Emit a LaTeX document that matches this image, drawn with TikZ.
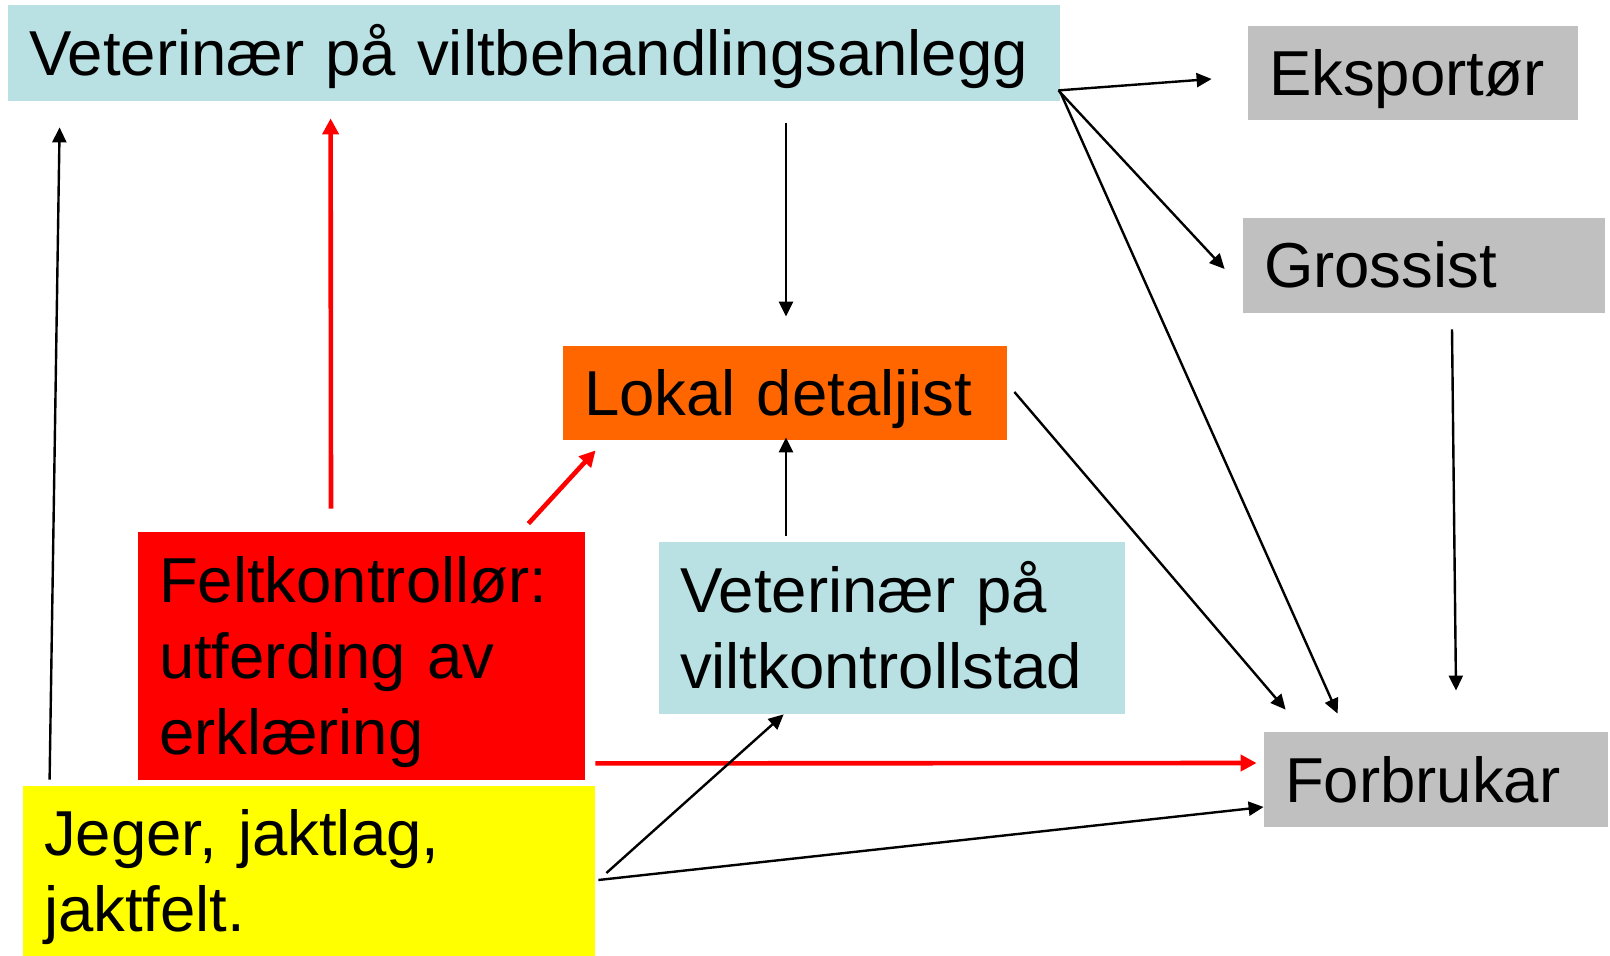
\documentclass[tikz,border=0pt]{standalone}
\usepackage{fontspec}
\setmainfont{Liberation Sans}
\usetikzlibrary{arrows.meta,calc}
\definecolor{vetblue}{RGB}{185,224,227}
\definecolor{detorange}{RGB}{255,102,0}
\definecolor{tradegrey}{RGB}{192,192,192}
\definecolor{hunteryellow}{RGB}{255,255,0}
\definecolor{ctrlred}{RGB}{255,0,0}
\tikzset{
  box/.style={rectangle, inner xsep=10.5pt, inner ysep=0pt, align=left,
    font=\fontsize{31.75}{38}\selectfont, text height=22.5pt, text depth=0pt},
  arr/.style={line width=1.2pt, -{Triangle[length=7.5pt,width=7pt]}},
  redarr/.style={ctrlred, line width=2.3pt, -{Triangle[length=8pt,width=8pt]}}
}
\begin{document}
\begin{tikzpicture}[x=0.5pt,y=0.5pt]
    \useasboundingbox (0,0) rectangle (1610,-956);
    % boxes
    \node[box, fill=vetblue, text width=505pt, minimum height=48pt] (anlegg) at (534,-53) {Veterinær på viltbehandlingsanlegg};
    \node[box, fill=tradegrey, text width=144pt, minimum height=47pt] (eksp) at (1413,-73) {Eksportør};
    \node[box, fill=tradegrey, text width=160pt, minimum height=47.5pt] (gross) at (1424,-265.5) {Grossist};
    \node[box, fill=detorange, text width=201pt, minimum height=47pt] (lokal) at (785,-393) {Lokal detaljist};
    \node[box, fill=ctrlred, text width=202.5pt, minimum height=124pt, text depth=76pt] (felt) at (361.5,-656) {Feltkontrollør:\\utferding av\\erklæring};
    \node[box, fill=vetblue, text width=212pt, minimum height=86pt, text depth=38pt] (vkstad) at (892,-628) {Veterinær på\\viltkontrollstad};
    \node[box, fill=tradegrey, text width=151pt, minimum height=47.5pt] (forb) at (1436,-779.5) {Forbrukar};
    \node[box, fill=hunteryellow, text width=265pt, minimum height=85pt, text depth=38pt] (jeger) at (309,-871) {Jeger, jaktlag,\\jaktfelt.};
    % red arrows from the field controller
    \draw[redarr] ($(felt.north)+(-30.5,23)$) -- ($(anlegg.south west)+(323,-17)$);
    \draw[redarr] ($(felt.north east)+(-57,8)$) -- ($(lokal.south west)+(33,-10)$);
    \draw[redarr] ($(felt.south east)+(10,17)$) -- ($(forb.west)+(-7,16.5)$);
    % black arrows
    \draw[arr] ($(jeger.north west)+(27,6)$) -- ($(anlegg.south west)+(52,-26)$);
    \draw[arr] ($(anlegg.south)+(252,-22)$) -- ($(lokal.north)+(1,29)$);
    \draw[arr] ($(vkstad.north)+(-106,6)$) -- ($(lokal.south)+(1,3)$);
    \draw[arr] ($(anlegg.south east)+(-2,11)$) -- ($(eksp.west)+(-36,-6)$);
    \draw[arr] ($(anlegg.south east)+(-2,11)$) -- ($(gross.west)+(-18,-3.5)$);
    \draw[arr] ($(anlegg.south east)+(0,9)$) -- ($(forb.north west)+(74,18)$);
    \draw[arr] ($(gross.south)+(28,-16)$) -- ($(forb.north)+(20,41)$);
    \draw[arr] ($(lokal.east)+(7,1)$) -- ($(forb.north west)+(22,22)$);
    \draw[arr] ($(jeger.east)+(11,-2)$) -- ($(vkstad.south west)+(125,0)$);
    \draw[arr] ($(jeger.east)+(3,-9)$) -- ($(forb.west)+(0,-27.5)$);
\end{tikzpicture}
\end{document}
